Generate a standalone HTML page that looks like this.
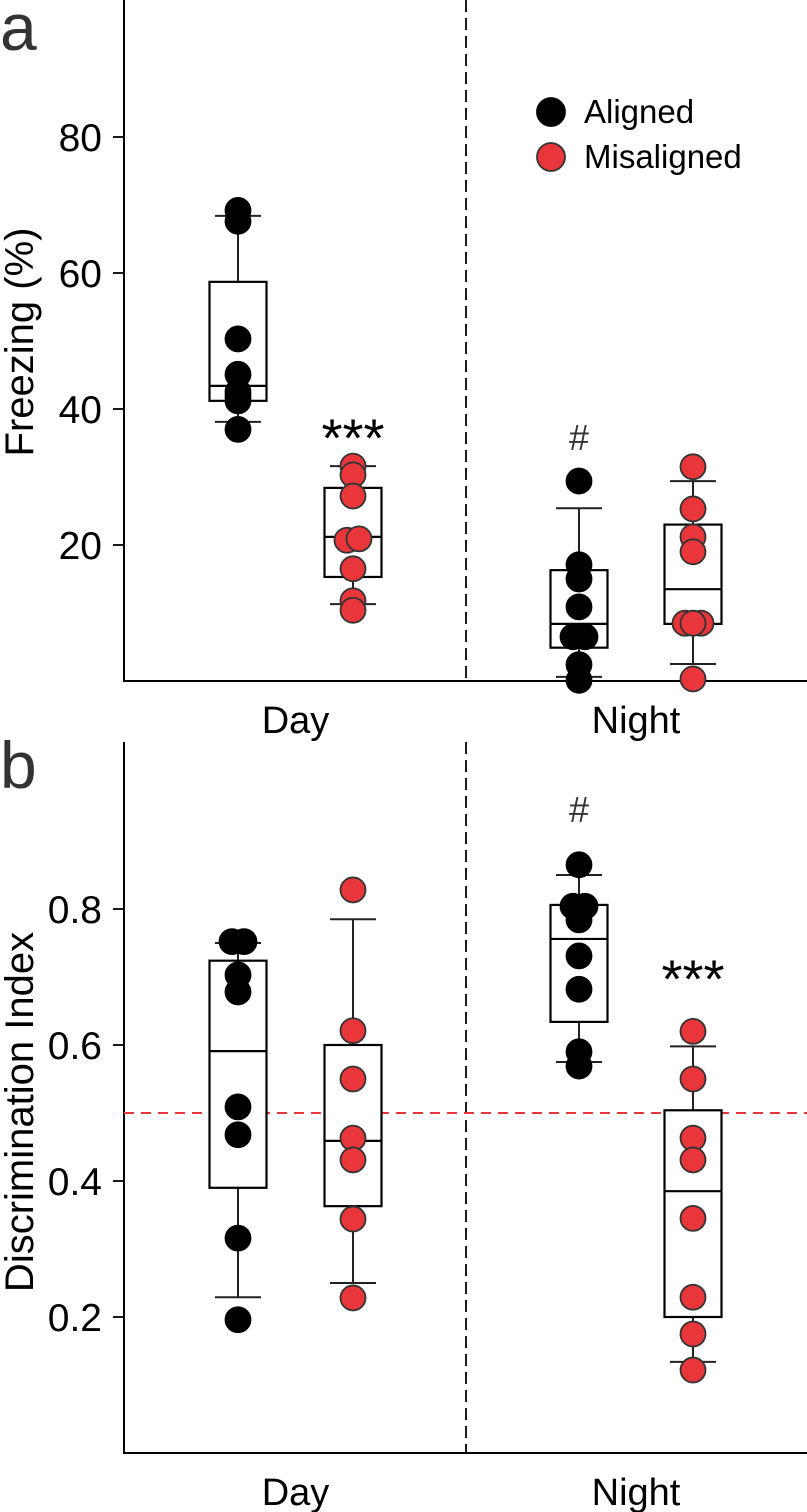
<!DOCTYPE html>
<html><head><meta charset="utf-8">
<style>
html,body{margin:0;padding:0;background:#fff;}
svg{display:block;font-family:"Liberation Sans",Arial,sans-serif;}
</style></head>
<body>
<svg id="chart" width="807" height="1512" viewBox="0 0 807 1512" xmlns="http://www.w3.org/2000/svg">
<g id="layer"></g>
</svg>
<script>
// ---------- data ----------
const categories = ["Day", "Night"];
const seriesNames = ["Aligned", "Misaligned"];
const freezeTicks = [20, 40, 60, 80];
const discTicks = [0.2, 0.4, 0.6, 0.8];
// panel a: freezing (%)
const freezeDayAligned = [69.2, 67.6, 50.3, 45.1, 42.5, 41.8, 41.2, 37.0];
const freezeDayMis = [31.6, 30.3, 27.2, 20.7, 20.9, 16.5, 11.8, 10.4];
const freezeNightAligned = [29.4, 17.1, 15.0, 10.9, 6.5, 6.5, 2.4, 0.1];
const freezeNightMis = [31.5, 25.3, 21.2, 19.0, 8.5, 8.5, 8.5, 0.3];
// box stats: [whiskerLow, q1, median, q3, whiskerHigh]
const freezeBoxDayAligned = [38.1, 41.2, 43.4, 58.7, 68.4];
const freezeBoxDayMis = [11.3, 15.3, 21.2, 28.4, 31.6];
const freezeBoxNightAligned = [0.6, 4.9, 8.4, 16.3, 25.4];
const freezeBoxNightMis = [2.5, 8.4, 13.5, 23.0, 29.4];
// panel b: discrimination index
const discDayAligned = [0.752, 0.752, 0.703, 0.678, 0.509, 0.468, 0.316, 0.196];
const discDayMis = [0.828, 0.621, 0.55, 0.463, 0.431, 0.344, 0.228];
const discNightAligned = [0.865, 0.804, 0.804, 0.784, 0.731, 0.682, 0.590, 0.569];
const discNightMis = [0.62, 0.55, 0.463, 0.431, 0.345, 0.229, 0.175, 0.122];
const discBoxDayAligned = [0.229, 0.390, 0.591, 0.724, 0.750];
const discBoxDayMis = [0.250, 0.363, 0.459, 0.600, 0.785];
const discBoxNightAligned = [0.575, 0.634, 0.756, 0.806, 0.850];
const discBoxNightMis = [0.134, 0.200, 0.385, 0.504, 0.598];
const chanceLevel = 0.5;

// ---------- drawing ----------
const NS = "http://www.w3.org/2000/svg";
const layer = document.getElementById("layer");
function mk(tag, attrs, parent) {
  const e = document.createElementNS(NS, tag);
  for (const k in attrs) e.setAttribute(k, attrs[k]);
  (parent || layer).appendChild(e);
  return e;
}
const axisX = 124, rightX = 807, divX = 466;
const groupX = [238, 353, 579, 693];
const BOXW = 57, R = 12.5;
const RED = "#e8363b";

function drawPanel(p) {
  const y = v => p.y0 - v * p.scale;
  const g = mk("g", {});
  
  
  const ya = mk("line", {x1: axisX, x2: axisX, y1: p.top, y2: p.y0 + 1, stroke: "#000", "stroke-width": 2}, g);
  
  
  const xa = mk("line", {x1: axisX, x2: rightX, y1: p.y0, y2: p.y0, stroke: "#000", "stroke-width": 2}, g);
  
  
  const dv = mk("line", {x1: divX, x2: divX, y1: p.top, y2: p.y0, stroke: "#000", "stroke-width": 1.8, "stroke-dasharray": "12,6"}, g);
  
  
  p.ticks.forEach(t => {
    const tl = mk("line", {x1: axisX - 11, x2: axisX, y1: y(t), y2: y(t), stroke: "#000", "stroke-width": 1.8}, g);
    
    
    const tx = mk("text", {x: 102, y: y(t) + 14, "text-anchor": "end", "font-size": 39, fill: "#000"}, g);
    tx.textContent = p.fmt(t);
    
    
  });
  categories.forEach((c, i) => {
    const cx = (groupX[i * 2] + groupX[i * 2 + 1]) / 2;
    const t = mk("text", {x: cx, y: p.y0 + 52, "text-anchor": "middle", "font-size": 38, fill: "#000"}, g);
    t.textContent = c;
    
    
  });
  const yt = mk("text", {x: 0, y: 0, "text-anchor": "middle", "font-size": 40, fill: "#000",
    transform: `translate(33,${p.titleY}) rotate(-90)`}, g);
  yt.textContent = p.title;
  
  
  const lt = mk("text", {x: 0, y: p.letterY, "font-size": 66, fill: "#333"}, g);
  lt.textContent = p.letter;
  
  
  if (p.chance !== undefined) {
    const cl = mk("line", {x1: axisX, x2: rightX, y1: y(p.chance), y2: y(p.chance), stroke: RED, "stroke-width": 2, "stroke-dasharray": "10,7"}, g);
    
    
  }
  p.boxes.forEach((b, i) => {
    const cx = groupX[i];
    const bg = mk("g", {}, g);
    
    
    mk("line", {x1: cx, x2: cx, y1: y(b[0]), y2: y(b[1]), stroke: "#222", "stroke-width": 2}, bg);
    mk("line", {x1: cx, x2: cx, y1: y(b[3]), y2: y(b[4]), stroke: "#222", "stroke-width": 2}, bg);
    mk("line", {x1: cx - 23, x2: cx + 23, y1: y(b[0]), y2: y(b[0]), stroke: "#222", "stroke-width": 2}, bg);
    mk("line", {x1: cx - 23, x2: cx + 23, y1: y(b[4]), y2: y(b[4]), stroke: "#222", "stroke-width": 2}, bg);
    mk("rect", {x: cx - BOXW / 2, y: y(b[3]), width: BOXW, height: y(b[1]) - y(b[3]), fill: "#fff", stroke: "#000", "stroke-width": 2.2}, bg);
    mk("line", {x1: cx - BOXW / 2, x2: cx + BOXW / 2, y1: y(b[2]), y2: y(b[2]), stroke: "#000", "stroke-width": 2.2}, bg);
  });
  p.points.forEach((arr, i) => {
    const cx = groupX[i];
    const red = i % 2 === 1;
    const placed = [];
    arr.forEach(v => {
      const py = y(v);
      let dx = 0;
      const near = placed.filter(q => Math.abs(q.y - py) < 3);
      if (near.length === 1) { near[0].el.setAttribute("cx", cx - 6); dx = 6; }
      else if (near.length === 2) { near[0].el.setAttribute("cx", cx - 8); near[1].el.setAttribute("cx", cx + 8); dx = 0; }
      const c = mk("circle", {cx: cx + dx, cy: py, r: R, fill: red ? RED : "#000", stroke: red ? "#333" : "#000", "stroke-width": 1.8}, g);
      
      
      placed.push({y: py, el: c});
    });
  });
  p.notes.forEach(n => {
    const isHash = n.t === "#";
    const t = mk("text", {x: groupX[n.g], y: y(n.v), "text-anchor": "middle", "font-size": isHash ? 36 : 54, fill: isHash ? "#333" : "#000"}, g);
    t.textContent = n.t;
    
    
  });
}

drawPanel({
  name: "panel-a-freezing", letter: "a", letterY: 50, title: "Freezing (%)", titleY: 342,
  top: 0, y0: 681, scale: 6.8, ticks: freezeTicks, fmt: t => String(t),
  keys: ["day-aligned", "day-misaligned", "night-aligned", "night-misaligned"],
  boxes: [freezeBoxDayAligned, freezeBoxDayMis, freezeBoxNightAligned, freezeBoxNightMis],
  points: [freezeDayAligned, freezeDayMis, freezeNightAligned, freezeNightMis],
  notes: [{g: 1, v: 29.5 + 3.5, t: "***"}, {g: 2, v: 29.5 + 4.5, t: "#"}]
});
drawPanel({
  name: "panel-b-discrimination", letter: "b", letterY: 788, title: "Discrimination Index", titleY: 1112,
  top: 742, y0: 1453, scale: 680, ticks: discTicks, fmt: t => t.toFixed(1), chance: chanceLevel,
  keys: ["day-aligned", "day-misaligned", "night-aligned", "night-misaligned"],
  boxes: [discBoxDayAligned, discBoxDayMis, discBoxNightAligned, discBoxNightMis],
  points: [discDayAligned, discDayMis, discNightAligned, discNightMis],
  notes: [{g: 3, v: 0.62 + 0.05, t: "***"}, {g: 2, v: 0.865 + 0.063, t: "#"}]
});

const lg = mk("g", {});


seriesNames.forEach((s, i) => {
  const yy = 112 + i * 45;
  const c = mk("circle", {cx: 551, cy: yy, r: 14, fill: i ? RED : "#000", stroke: i ? "#333" : "#000", "stroke-width": 1.8}, lg);
  
  
  const t = mk("text", {x: 584, y: yy + 11, "font-size": 33, fill: "#000"}, lg);
  t.textContent = s;
  
  
});
</script>
</body></html>
